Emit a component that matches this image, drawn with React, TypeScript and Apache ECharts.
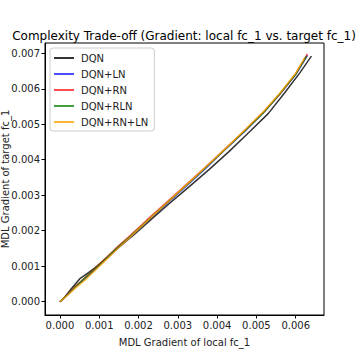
import React, { useEffect, useRef } from "react";
import * as echarts from "echarts";

const seriesNames = ["DQN", "DQN+LN", "DQN+RN", "DQN+RLN", "DQN+RN+LN"];
const seriesColors = ["rgba(0,0,0,0.8)", "rgba(0,0,255,0.7)", "rgba(255,0,0,0.7)", "rgba(0,128,0,0.75)", "rgba(255,165,0,0.8)"];

const dqnX = [0, 0.0001, 0.0003, 0.0005, 0.0007, 0.0009, 0.0012, 0.0015, 0.0019, 0.0023, 0.0028, 0.0033, 0.0038, 0.0043, 0.0048, 0.0053, 0.0057, 0.0061, 0.0064];
const dqnY = [0, 0.0001, 0.00038, 0.00064, 0.0008, 0.00096, 0.00124, 0.00154, 0.0019, 0.0023, 0.00278, 0.00325, 0.00373, 0.00423, 0.00476, 0.0053, 0.00586, 0.00644, 0.00692];

const lnX = [0, 0.0002, 0.0004, 0.0006, 0.0008, 0.0011, 0.0014, 0.0018, 0.0022, 0.0027, 0.0032, 0.0037, 0.0042, 0.0047, 0.0052, 0.0056, 0.006, 0.0063];
const lnY = [0, 0.0002, 0.00042, 0.00061, 0.0008, 0.00112, 0.00143, 0.00183, 0.00224, 0.00274, 0.00324, 0.00375, 0.00428, 0.0048, 0.00535, 0.00585, 0.0064, 0.00694];

const rnX = [0, 0.0002, 0.0004, 0.0006, 0.0008, 0.0011, 0.0014, 0.0018, 0.0022, 0.0027, 0.0032, 0.0037, 0.0042, 0.0047, 0.0052, 0.0056, 0.006, 0.0063];
const rnY = [0, 0.00021, 0.00044, 0.00064, 0.00084, 0.00116, 0.00148, 0.00188, 0.00229, 0.00279, 0.00329, 0.00379, 0.0043, 0.00482, 0.00536, 0.00586, 0.00642, 0.00698];

const rlnX = [0, 0.0002, 0.0004, 0.0006, 0.0008, 0.0011, 0.0014, 0.0018, 0.0022, 0.0027, 0.0032, 0.0037, 0.0042, 0.0047, 0.0052, 0.0056, 0.006, 0.00628];
const rlnY = [0, 0.0002, 0.00043, 0.00063, 0.00083, 0.00114, 0.00146, 0.00185, 0.00226, 0.00276, 0.00326, 0.00377, 0.00429, 0.00481, 0.00535, 0.00586, 0.00641, 0.00692];

const rnlnX = [0, 0.0002, 0.0004, 0.0006, 0.0008, 0.0011, 0.0014, 0.0018, 0.0022, 0.0027, 0.0032, 0.0037, 0.0042, 0.0047, 0.0052, 0.0056, 0.006, 0.00622];
const rnlnY = [0, 0.00019, 0.00039, 0.00057, 0.00078, 0.0011, 0.00142, 0.00183, 0.00225, 0.00276, 0.00327, 0.00378, 0.0043, 0.00483, 0.00538, 0.00588, 0.00644, 0.00686];

const xTicks = [0, 0.001, 0.002, 0.003, 0.004, 0.005, 0.006];
const yTicks = [0, 0.001, 0.002, 0.003, 0.004, 0.005, 0.006, 0.007];

const seriesXs = [dqnX, lnX, rnX, rlnX, rnlnX];
const seriesYs = [dqnY, lnY, rnY, rlnY, rnlnY];

export default function App() {
  const ref = useRef<HTMLDivElement>(null);
  useEffect(() => {
    if (!ref.current) return;
    const chart = echarts.init(ref.current, null, { renderer: "svg" });
    const font = "DejaVu Sans";
    chart.setOption({
      animation: false,
      backgroundColor: "#fff",
      title: {
        text: "Complexity Trade-off (Gradient: local fc_1 vs. target fc_1)",
        left: 179,
        textAlign: "center",
        top: 25,
        textStyle: { fontFamily: font, fontSize: 12, fontWeight: "normal", color: "#000" },
      },
      legend: {
        orient: "vertical",
        left: 50,
        top: 48,
        itemWidth: 20,
        itemHeight: 2,
        itemGap: 6,
        padding: [5, 6, 4, 4],
        borderColor: "#ccc",
        borderWidth: 1,
        borderRadius: 3,
        icon: "rect",
        data: seriesNames,
        textStyle: { fontFamily: font, fontSize: 10, color: "#222", padding: [0, 0, 0, 2] },
      },
      grid: {
        left: 45,
        right: 36,
        top: 43,
        bottom: 45,
        containLabel: false,
        outerBoundsMode: "none",
        show: true,
        borderColor: "#000",
        borderWidth: 1,
      },
      xAxis: {
        type: "value",
        min: -0.00038,
        max: 0.00672,
        name: "MDL Gradient of local fc_1",
        nameLocation: "middle",
        nameGap: 22,
        nameMoveOverlap: false,
        nameTextStyle: { fontFamily: font, fontSize: 10, color: "#222" },
        splitLine: { show: false },
        axisLine: { show: true, lineStyle: { color: "#000" }, onZero: false },
        axisTick: { show: true, length: 3.5, customValues: xTicks, lineStyle: { color: "#000" } },
        axisLabel: {
          customValues: xTicks,
          formatter: (v: number) => v.toFixed(3),
          fontFamily: font,
          fontSize: 10,
          color: "#222",
          margin: 5,
        },
      },
      yAxis: {
        type: "value",
        min: -0.000375,
        max: 0.00729,
        name: "MDL Gradient of target fc_1",
        nameLocation: "middle",
        nameGap: 35,
        nameMoveOverlap: false,
        nameTextStyle: { fontFamily: font, fontSize: 10, color: "#222" },
        splitLine: { show: false },
        axisLine: { show: true, lineStyle: { color: "#000" }, onZero: false },
        axisTick: { show: true, length: 3.5, customValues: yTicks, lineStyle: { color: "#000" } },
        axisLabel: {
          customValues: yTicks,
          formatter: (v: number) => v.toFixed(3),
          fontFamily: font,
          fontSize: 10,
          color: "#222",
          margin: 5,
        },
      },
      series: seriesNames.map((name, i) => ({
        name,
        type: "line",
        showSymbol: false,
        smooth: false,
        color: seriesColors[i],
        lineStyle: { width: 1.5, color: seriesColors[i] },
        data: seriesXs[i].map((x, j) => [x, seriesYs[i][j]]),
      })),
    });
    return () => chart.dispose();
  }, []);
  return <div ref={ref} style={{ position: "fixed", left: 0, top: 0, width: 360, height: 360 }} />;
}
